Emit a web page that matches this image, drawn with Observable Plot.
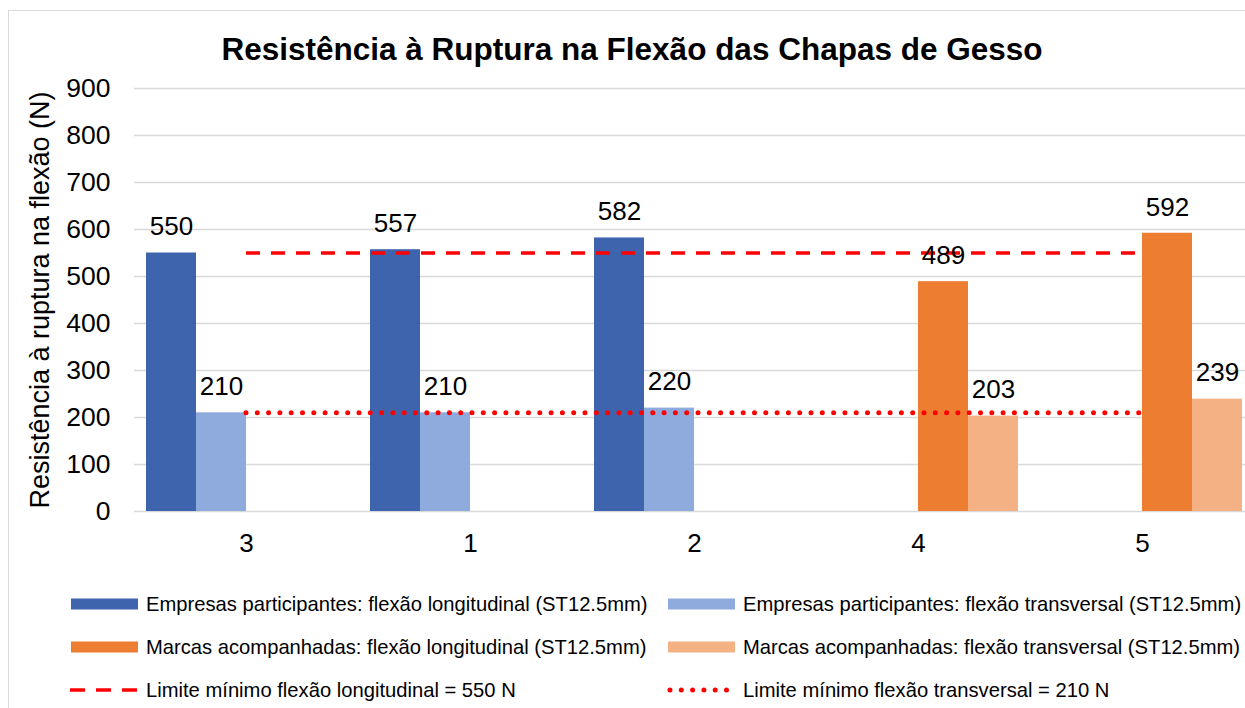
<!DOCTYPE html>
<html><head><meta charset="utf-8">
<script src="https://cdn.jsdelivr.net/npm/d3@7"></script>
<script src="https://cdn.jsdelivr.net/npm/@observablehq/plot@0.6"></script>
<style>
body{margin:0;background:#fff;font-family:"Liberation Sans",Arial,sans-serif;color:#000;width:1245px;height:708px;overflow:hidden;position:relative;}
#frame{position:absolute;left:8px;top:10px;width:1260px;height:720px;border:1.5px solid #d9d9d9;box-sizing:border-box;}
#title{position:absolute;left:8px;width:1248px;top:34px;text-align:center;font-weight:bold;font-size:31.5px;line-height:31.5px;}
#chart{position:absolute;left:0;top:70px;}
.leg{position:absolute;font-size:20.2px;line-height:20px;white-space:nowrap;}
.sw{position:absolute;}
</style></head>
<body>
<div id="frame"></div>
<div id="title">Resistência à Ruptura na Flexão das Chapas de Gesso</div>
<div id="chart"></div>
<div id="legend"></div>
<script>
const categories = ["3", "1", "2", "4", "5"];
const seriesNames = [
  "Empresas participantes: flexão longitudinal (ST12.5mm)",
  "Empresas participantes: flexão transversal (ST12.5mm)",
  "Marcas acompanhadas: flexão longitudinal (ST12.5mm)",
  "Marcas acompanhadas: flexão transversal (ST12.5mm)"
];
const empresasLongitudinal = [550, 557, 582, null, null];
const empresasTransversal = [210, 210, 220, null, null];
const marcasLongitudinal = [null, null, null, 489, 592];
const marcasTransversal = [null, null, null, 203, 239];
const limiteLongitudinal = 550;
const limiteTransversal = 210;
const limiteNames = ["Limite mínimo flexão longitudinal = 550 N", "Limite mínimo flexão transversal = 210 N"];
const yTicks = [0, 100, 200, 300, 400, 500, 600, 700, 800, 900];
const seriesColors = ["#3e64ad", "#8faadc", "#ed7d31", "#f4b183"];
const yTitle = "Resistência à ruptura na flexão (N)";

const seriesValues = [empresasLongitudinal, empresasTransversal, marcasLongitudinal, marcasTransversal];
const rows = [];
seriesValues.forEach((vals, s) => vals.forEach((v, i) => { if (v != null) rows.push({i, s, value: v}); }));

const gw = 200 / 224;           // group width in category units
const slot = gw / 4;
const x1 = d => d.i - gw / 2 + d.s * slot;
const x2 = d => d.i - gw / 2 + (d.s + 1) * slot;
const xc = d => d.i - gw / 2 + (d.s + 0.5) * slot;

const chart = Plot.plot({
  width: 1245, height: 500,
  marginTop: 18, marginBottom: 59, marginLeft: 134, marginRight: 0,
  x: {type: "linear", domain: [-0.5, categories.length - 0.5], range: [134, 1254], axis: null},
  y: {domain: [0, 900], axis: null},
  color: {type: "identity"},
  style: {fontFamily: "Liberation Sans, Arial, sans-serif", color: "#000", overflow: "visible"},
  marks: [
    Plot.ruleY(yTicks, {stroke: "#d9d9d9", strokeWidth: 1.5}),
    Plot.rectY(rows, {x1, x2, y1: 0, y2: "value", fill: d => seriesColors[d.s]}),
    Plot.ruleY([limiteLongitudinal], {x1: () => 0, x2: () => categories.length - 1, stroke: "#ff0000", strokeWidth: 3.5, strokeDasharray: "14,11"}),
    Plot.ruleY([limiteTransversal], {x1: () => 0, x2: () => categories.length - 1, stroke: "#ff0000", strokeWidth: 5, strokeDasharray: "0,11.3", strokeLinecap: "round"}),
    Plot.text(rows, {x: xc, y: "value", text: d => String(d.value), dy: -26, fontSize: 26, fill: "#000"}),
    Plot.axisX(d3.range(categories.length), {tickFormat: i => categories[i], tickSize: 0, tickPadding: 22, fontSize: 26, label: null, fill: "#000"}),
    Plot.axisY(yTicks, {tickSize: 0, tickPadding: 24, fontSize: 26.5, label: null, fill: "#000"}),
    Plot.text([yTitle], {frameAnchor: "left", textAnchor: "middle", rotate: -90, dx: -94, dy: 0, fontSize: 27, fill: "#000"})
  ]
});
document.getElementById("chart").appendChild(chart);

// Legend
const cols = [71, 668];
const rowsY = [603.5, 647, 690];
const items = [
  {name: seriesNames[0], kind: "rect", color: seriesColors[0], col: 0, row: 0},
  {name: seriesNames[1], kind: "rect", color: seriesColors[1], col: 1, row: 0},
  {name: seriesNames[2], kind: "rect", color: seriesColors[2], col: 0, row: 1},
  {name: seriesNames[3], kind: "rect", color: seriesColors[3], col: 1, row: 1},
  {name: limiteNames[0], kind: "dash", color: "#ff0000", col: 0, row: 2},
  {name: limiteNames[1], kind: "dot", color: "#ff0000", col: 1, row: 2}
];
items.forEach(it => {
  const x = cols[it.col], y = rowsY[it.row];
  const svg = d3.create("svg").attr("class", "sw").attr("width", 70).attr("height", 14)
    .style("left", (x - 1) + "px").style("top", (y - 7) + "px");
  if (it.kind === "rect") {
    svg.append("rect").attr("x", 1).attr("y", 1.5).attr("width", 67).attr("height", 11).attr("fill", it.color);
  } else if (it.kind === "dash") {
    svg.append("line").attr("x1", 0).attr("x2", 68).attr("y1", 7).attr("y2", 7)
      .attr("stroke", it.color).attr("stroke-width", 3.5).attr("stroke-dasharray", "15,11");
  } else {
    svg.append("line").attr("x1", 3).attr("x2", 60).attr("y1", 7).attr("y2", 7)
      .attr("stroke", it.color).attr("stroke-width", 5).attr("stroke-linecap", "round").attr("stroke-dasharray", "0,11.3");
  }
  document.body.appendChild(svg.node());
  const t = document.createElement("div");
  t.className = "leg";
  t.textContent = it.name;
  t.style.left = (x + 75) + "px";
  t.style.top = (y - 10) + "px";
  document.body.appendChild(t);
});
</script>
</body></html>
